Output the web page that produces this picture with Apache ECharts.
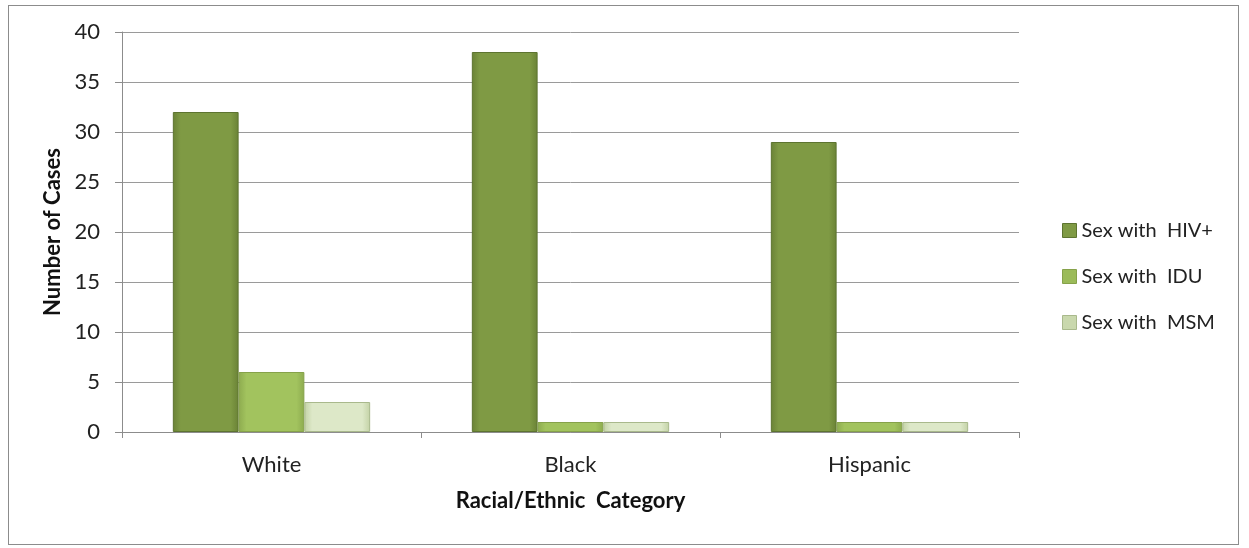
<!DOCTYPE html>
<html>
<head>
<meta charset="utf-8">
<script src="https://cdn.jsdelivr.net/npm/echarts@6/dist/echarts.min.js"></script>
<style>
  html, body { margin: 0; padding: 0; background: #ffffff; }
  #frame { position: absolute; left: 8px; top: 5px; width: 1231px; height: 540px; border: 1px solid #8c8c8c; box-sizing: border-box; }
  #chart { width: 1249px; height: 548px; }
</style>
</head>
<body>
<div id="frame"></div>
<div id="chart"></div>
<script>
// Reported cases by racial/ethnic category and exposure type
const categories = ['White', 'Black', 'Hispanic'];
const hivPartner = [32, 38, 29];
const iduPartner = [6, 1, 1];
const msmPartner = [3, 1, 1];
const seriesNames = ['Sex with  HIV+', 'Sex with  IDU', 'Sex with  MSM'];

const FONT = 'Lato, "Open Sans", sans-serif';

function bevel(mid, edge) {
  return {
    type: 'linear', x: 0, y: 0, x2: 1, y2: 0,
    colorStops: [
      { offset: 0, color: edge },
      { offset: 0.12, color: mid },
      { offset: 0.88, color: mid },
      { offset: 1, color: edge }
    ]
  };
}

const styles = [
  { color: bevel('#7f9a44', '#6a8236'), border: '#5d7430', legend: '#7f9a44' },
  { color: bevel('#a2c35e', '#8dab4f'), border: '#86a24a', legend: '#9bbb59' },
  { color: bevel('#dde8c8', '#c3d2a6'), border: '#a9b98c', legend: '#c9d8ad' }
];

const values = [hivPartner, iduPartner, msmPartner];

const chart = echarts.init(document.getElementById('chart'), null, { renderer: 'canvas' });

chart.setOption({
  animation: false,
  backgroundColor: 'transparent',
  grid: { left: 122, right: 230, top: 32, bottom: 116, containLabel: false },
  legend: {
    orient: 'vertical',
    left: 1057,
    top: 214,
    itemGap: 23,
    itemWidth: 14,
    itemHeight: 14,
    icon: 'rect',
    textStyle: { fontFamily: FONT, fontSize: 20, lineHeight: 23, color: '#222' },
    data: seriesNames.map((n, i) => ({ name: n, itemStyle: { color: styles[i].legend, borderColor: styles[i].border, borderWidth: 1 } }))
  },
  xAxis: {
    type: 'category',
    data: categories,
    name: 'Racial/Ethnic  Category',
    nameLocation: 'middle',
    nameGap: 58,
    nameTextStyle: { fontFamily: FONT, fontSize: 22, fontWeight: 'bold', color: '#111' },
    axisLine: { lineStyle: { color: '#8c8c8c', width: 1 } },
    axisTick: { show: true, length: 6, lineStyle: { color: '#8c8c8c' } },
    axisLabel: { fontFamily: FONT, fontSize: 22, color: '#222', margin: 22 },
    splitLine: { show: false }
  },
  yAxis: {
    type: 'value',
    min: 0,
    max: 40,
    interval: 5,
    name: 'Number of Cases',
    nameLocation: 'middle',
    nameGap: 54,
    nameTextStyle: { fontFamily: FONT, fontSize: 22, fontWeight: 'bold', color: '#111' },
    axisLine: { show: true, lineStyle: { color: '#8c8c8c', width: 1 } },
    axisTick: { show: true, length: 7, inside: false, lineStyle: { color: '#8c8c8c' } },
    axisLabel: { fontFamily: FONT, fontSize: 22, color: '#222', margin: 22 },
    splitLine: { show: true, lineStyle: { color: '#9a9a9a', width: 1 } }
  },
  series: seriesNames.map((n, i) => ({
    name: n,
    type: 'bar',
    data: values[i],
    barGap: '0%',
    barCategoryGap: '34%',
    itemStyle: { color: styles[i].color, borderColor: styles[i].border, borderWidth: 1 }
  }))
});
</script>
</body>
</html>
